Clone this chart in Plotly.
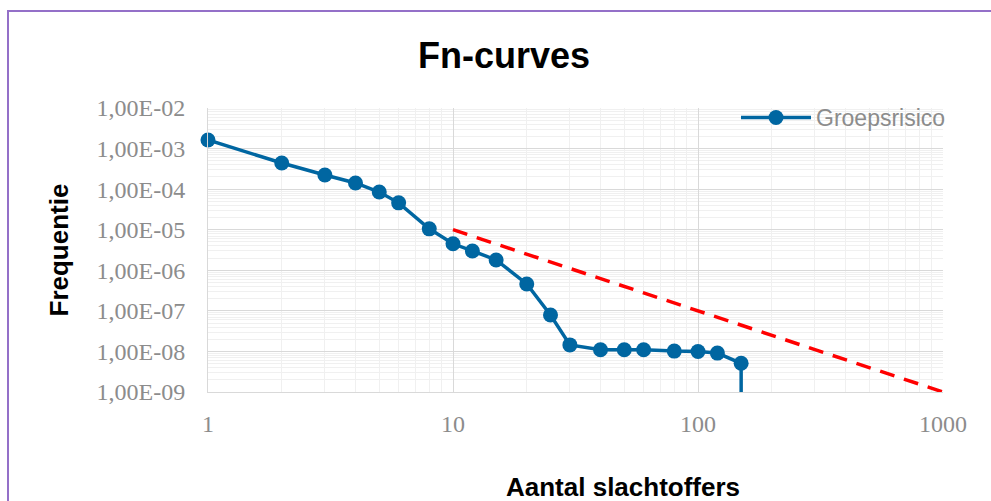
import plotly.graph_objects as go

# Data
slachtoffers = [1, 2, 3, 4, 5, 6, 8, 10, 12, 15, 20, 25, 30, 40, 50, 60, 80, 100, 120, 150]
frequentie = [1.63e-3, 4.4e-4, 2.23e-4, 1.42e-4, 8.5e-5, 4.6e-5, 1.05e-5, 4.5e-6, 3.0e-6, 1.8e-6,
              4.6e-7, 7.9e-8, 1.45e-8, 1.1e-8, 1.1e-8, 1.1e-8, 1.02e-8, 1.0e-8, 9.1e-9, 5.1e-9]
drop_x = [150, 150]
drop_y = [5.1e-9, 1e-11]

norm_x = [10, 1000]
norm_y = [1e-5, 1e-9]

y_tickvals = [1e-2, 1e-3, 1e-4, 1e-5, 1e-6, 1e-7, 1e-8, 1e-9]
y_ticktext = ["1,00E-02", "1,00E-03", "1,00E-04", "1,00E-05", "1,00E-06", "1,00E-07", "1,00E-08", "1,00E-09"]
x_tickvals = [1, 10, 100, 1000]
x_ticktext = ["1", "10", "100", "1000"]

blue = "#0066A1"
L, R, T, B = 208, 48, 108, 109
W, H = 991, 501
pw, ph = W - L - R, H - T - B

fig = go.Figure()
fig.add_trace(go.Scatter(x=norm_x, y=norm_y, mode="lines", showlegend=False,
                         line=dict(color="#FF0000", width=3.5, dash="15px,10px")))
fig.add_trace(go.Scatter(x=drop_x, y=drop_y, mode="lines", showlegend=False,
                         line=dict(color=blue, width=3.5)))
fig.add_trace(go.Scatter(x=slachtoffers, y=frequentie, mode="lines+markers", name="Groepsrisico",
                         line=dict(color=blue, width=3.5), cliponaxis=False,
                         marker=dict(color=blue, size=15)))

tickfont = dict(family="Liberation Serif", size=24, color="#8C8C8C")
fig.update_layout(
    width=W, height=H,
    margin=dict(l=L, r=R, t=T, b=B),
    paper_bgcolor="white", plot_bgcolor="white",
    title=dict(text="<b>Fn-curves</b>", x=504 / W, xanchor="center", y=1 - 55 / H, yanchor="middle",
               font=dict(family="Liberation Sans", size=36, color="black")),
    xaxis=dict(type="log", range=[0, 3], tickvals=x_tickvals, ticktext=x_ticktext,
               tickfont=tickfont, ticks="outside", ticklen=10, tickcolor="rgba(0,0,0,0)",
               showgrid=True, gridcolor="#D9D9D9", gridwidth=1,
               minor=dict(showgrid=True, gridcolor="#F0F0F0", gridwidth=1, ticks="", dtick="D1"),
               showline=True, linecolor="#D9D9D9", linewidth=1, zeroline=False),
    yaxis=dict(type="log", range=[-9, -2], tickvals=y_tickvals, ticktext=y_ticktext,
               tickfont=tickfont, ticks="outside", ticklen=17, tickcolor="rgba(0,0,0,0)",
               showgrid=True, gridcolor="#D9D9D9", gridwidth=1,
               minor=dict(showgrid=True, gridcolor="#F0F0F0", gridwidth=1, ticks="", dtick="D1"),
               showline=True, linecolor="#D9D9D9", linewidth=1, zeroline=False,
               title=dict(text="<b>Frequentie</b>", standoff=20,
                          font=dict(family="Liberation Sans", size=26, color="black"))),
    legend=dict(x=1.0 + 8 / pw, xanchor="right", y=1.0 + 12 / ph, yanchor="top", bgcolor="rgba(0,0,0,0)",
                itemwidth=70, font=dict(family="Liberation Sans", size=23, color="#8C8C8C")),
    annotations=[dict(text="<b>Aantal slachtoffers</b>", xref="paper", yref="paper",
                      x=(623 - L) / pw, y=-(487 - (H - B)) / ph, xanchor="center", yanchor="middle",
                      showarrow=False, font=dict(family="Liberation Sans", size=26, color="black"))],
    shapes=[dict(type="rect", xref="paper", yref="paper",
                 x0=(8 - L) / pw, x1=(1000 - L) / pw,
                 y0=((H - B) - 510) / ph, y1=((H - B) - 11) / ph,
                 line=dict(color="#9470C8", width=2), fillcolor="rgba(0,0,0,0)", layer="below")],
)

fig.write_html("out.html", config={"displayModeBar": False},
               post_script="document.body.style.margin='0';document.body.style.overflow='hidden';")
